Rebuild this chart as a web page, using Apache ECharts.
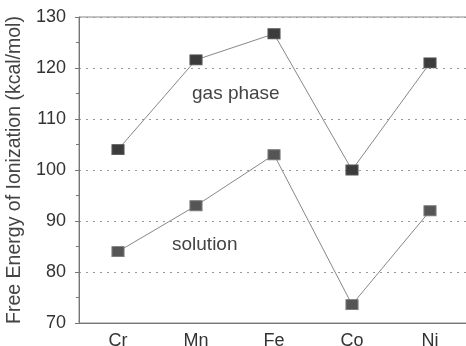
<!DOCTYPE html>
<html><head><meta charset="utf-8">
<script src="https://cdn.jsdelivr.net/npm/echarts@6/dist/echarts.min.js"></script>
<style>html,body{margin:0;padding:0;background:#fff}#c{width:466px;height:346px}</style>
</head><body><div id="c"></div>
<script>
const categories = ['Cr', 'Mn', 'Fe', 'Co', 'Ni'];
const gasPhase = [104, 121.6, 126.7, 100, 121];
const solution = [84, 93, 103, 73.6, 92];
const yTicks = [70, 80, 90, 100, 110, 120, 130];

const chart = echarts.init(document.getElementById('c'));
const font = 'Liberation Sans, Arial, sans-serif';
chart.setOption({
  animation: false,
  backgroundColor: '#fff',
  grid: { left: 79, top: 17, width: 390, bottom: 23, containLabel: false, outerBoundsMode: 'none',
          show: true, borderColor: '#888', borderWidth: 1 },
  xAxis: {
    type: 'category', data: categories, boundaryGap: true,
    axisLine: { lineStyle: { color: '#777', width: 1 } },
    axisTick: { alignWithLabel: true, length: 4, lineStyle: { color: '#777' } },
    axisLabel: { color: '#333', fontSize: 18, fontFamily: font, margin: 9.5 },
    splitLine: { show: false }
  },
  yAxis: {
    type: 'value', min: yTicks[0], max: yTicks[yTicks.length - 1], interval: 10,
    name: 'Free Energy of Ionization (kcal/mol)', nameLocation: 'middle', nameGap: 47,
    nameTextStyle: { color: '#444', fontSize: 19.5, fontFamily: font },
    axisLine: { show: true, lineStyle: { color: '#777', width: 1 } },
    axisTick: { show: true, length: 4, lineStyle: { color: '#777' } },
    minorTick: { show: true, splitNumber: 2, length: 3, lineStyle: { color: '#777' } },
    axisLabel: { color: '#333', fontSize: 18, fontFamily: font, margin: 13 },
    splitLine: { show: true, lineStyle: { color: '#999', type: [2, 5], width: 1 } }
  },
  series: [
    {
      name: 'gas phase', type: 'line', data: gasPhase,
      symbol: 'rect', symbolSize: [12, 10],
      lineStyle: { color: '#888', width: 1 },
      itemStyle: { color: '#3c3c3c', borderColor: '#555', borderWidth: 1 }
    },
    {
      name: 'solution', type: 'line', data: solution,
      symbol: 'rect', symbolSize: [12, 10],
      lineStyle: { color: '#888', width: 1 },
      itemStyle: { color: '#555', borderColor: '#777', borderWidth: 1 }
    }
  ],
  graphic: [
    { type: 'text', left: 192, top: 84, style: { text: 'gas phase', fill: '#444', font: '19px ' + font } },
    { type: 'text', left: 172, top: 235, style: { text: 'solution', fill: '#444', font: '19px ' + font } }
  ]
});
</script></body></html>
